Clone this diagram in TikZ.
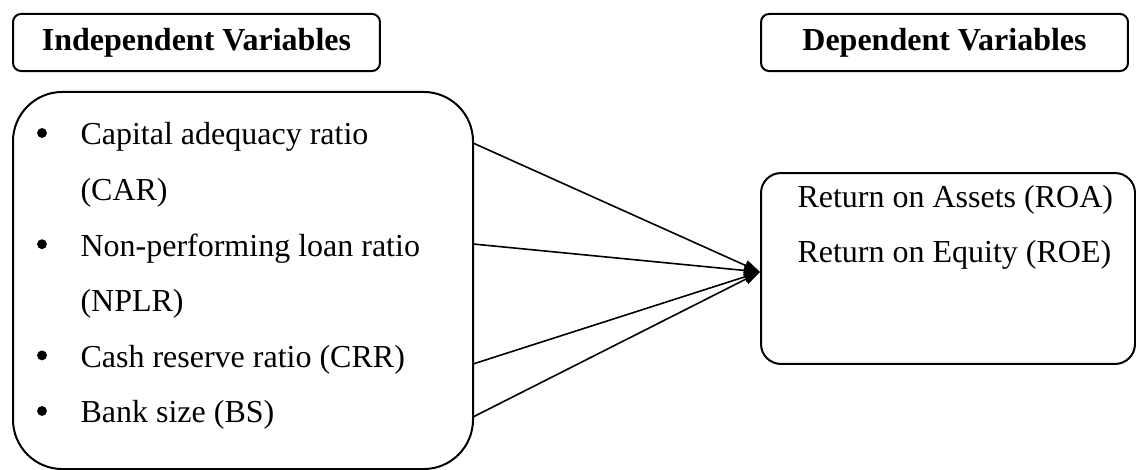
\documentclass[tikz,border=0pt]{standalone}
\usepackage{fontspec}
\setmainfont{Liberation Serif}
\usetikzlibrary{arrows.meta}

\begin{document}
\begin{tikzpicture}[x=0.375pt,y=-0.375pt,
    font=\fontsize{12}{14.4}\selectfont,
    headbox/.style={draw, line width=0.75pt, rounded corners=3pt,
      minimum width=137.6pt, minimum height=21.4pt,
      font=\fontsize{12}{14.4}\selectfont\bfseries},
    varbox/.style={draw, line width=0.75pt},
    item/.style={anchor=base west, inner sep=0pt},
    dot/.style={circle, fill, inner sep=0pt, minimum size=3.7pt},
    link/.style={line width=0.6pt, -{Triangle[length=6pt,width=4pt]}}]
    \useasboundingbox (0,0) rectangle (1136,470);
    % headings
    \node[headbox] (indhead) at (196.5,42.5) {Independent Variables};
    \node[headbox] (dephead) at (944.5,42.5) {Dependent Variables};
    % boxes
    \node[varbox, rounded corners=18.5pt, minimum width=172.5pt,
      minimum height=141.4pt] (ind) at (243,280.5) {};
    \node[varbox, rounded corners=7.5pt, minimum width=140.25pt,
      minimum height=71.6pt] (dep) at (948,268.5) {};
    % independent variables
    \node[dot] (b1) at (42,133) {};
    \node[item] (car) at (80,145) {Capital adequacy ratio};
    \node[item] (car2) at (80,200.6) {(CAR)};
    \node[dot] (b2) at (42,244.2) {};
    \node[item] (nplr) at (80,256.2) {Non-performing loan ratio};
    \node[item] (nplr2) at (80,311.8) {(NPLR)};
    \node[dot] (b3) at (42,355.4) {};
    \node[item] (crr) at (80,367.4) {Cash reserve ratio (CRR)};
    \node[dot] (b4) at (42,411) {};
    \node[item] (bs) at (80,423) {Bank size (BS)};
    % dependent variables
    \node[item] (roa) at (797,208) {Return on Assets (ROA)};
    \node[item] (roe) at (797,263) {Return on Equity (ROE)};
    % arrows
    \coordinate (s1) at (473,143);
    \coordinate (s2) at (473,244);
    \coordinate (s3) at (473,364);
    \coordinate (s4) at (473,417);
    \draw[link] (s1) -- ([yshift=-1.3pt]dep.west);
    \draw[link] (s2) -- ([yshift=-1.3pt]dep.west);
    \draw[link] (s3) -- ([yshift=-1.3pt]dep.west);
    \draw[link] (s4) -- ([yshift=-1.3pt]dep.west);
\end{tikzpicture}
\end{document}
